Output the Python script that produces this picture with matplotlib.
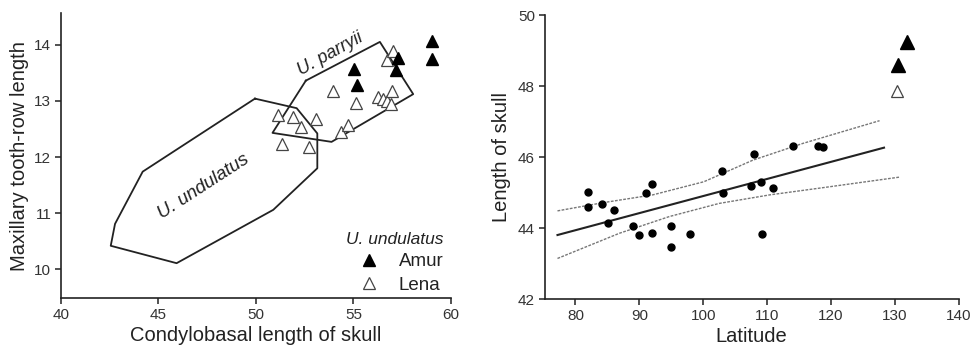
import matplotlib
matplotlib.use("Agg")
import matplotlib.pyplot as plt
from matplotlib.lines import Line2D

plt.rcParams["font.family"] = ["Liberation Sans", "DejaVu Sans"]

# left panel: convex hulls
und_x = [49.95, 52.09, 53.15, 53.15, 50.89, 45.93, 42.55, 42.77, 44.19, 49.95]
und_y = [13.04, 12.87, 12.42, 11.80, 11.06, 10.11, 10.42, 10.81, 11.74, 13.04]
par_x = [52.56, 56.36, 58.07, 53.88, 50.85, 52.56]
par_y = [13.36, 14.05, 13.12, 12.27, 12.43, 13.36]

# U. undulatus samples
lena_x = [51.15, 51.88, 52.31, 53.06, 51.32, 52.74, 53.93, 55.16, 54.39, 54.75,
          56.27, 56.53, 56.75, 56.96, 56.91, 56.70, 57.04]
lena_y = [12.75, 12.71, 12.54, 12.68, 12.23, 12.17, 13.18, 12.96, 12.44, 12.57,
          13.06, 13.04, 12.99, 13.18, 12.94, 13.72, 13.88]
amur_x = [55.03, 55.21, 57.30, 57.21, 59.04, 59.04]
amur_y = [13.56, 13.28, 13.77, 13.55, 14.07, 13.74]

# right panel
lat = [82.0, 82.0, 84.1, 86.0, 85.1, 89.0, 89.9, 91.0, 92.0, 92.0, 95.0, 95.0,
       97.9, 103.0, 103.1, 107.9, 107.5, 109.1, 109.2, 111.0, 114.1, 118.0, 118.8]
skull = [45.01, 44.61, 44.68, 44.51, 44.16, 44.05, 43.81, 45.00, 45.25, 43.86,
         44.05, 43.46, 43.84, 45.61, 45.00, 46.08, 45.20, 45.29, 43.84, 45.13,
         46.33, 46.33, 46.29]
fit_x = [77.2, 128.3]
fit_y = [43.81, 46.27]
up_x = [77.2, 84.3, 92.1, 100.1, 107.8, 115.6, 127.6]
up_y = [44.49, 44.72, 44.94, 45.31, 45.92, 46.39, 47.03]
lo_x = [77.2, 86.9, 94.7, 102.5, 110.4, 118.2, 130.7]
lo_y = [43.15, 43.86, 44.33, 44.70, 44.94, 45.13, 45.44]
amur_lat = [131.9, 130.5]
amur_skull = [49.25, 48.59]
lena_lat = [130.3]
lena_skull = [47.88]

ink = "#222222"


def style(ax):
    for s in ["top", "right"]:
        ax.spines[s].set_visible(False)
    for s in ["left", "bottom"]:
        ax.spines[s].set_linewidth(1.2)
        ax.spines[s].set_color(ink)
    ax.tick_params(direction="out", length=4, width=1.1, colors=ink,
                   labelcolor="#333333", labelsize=11, pad=3)


def main():
    fig = plt.figure(figsize=(9.72, 3.46), dpi=100)
    ax1 = fig.add_axes([0.0628, 0.1387, 0.401, 0.823])
    ax2 = fig.add_axes([0.5604, 0.135, 0.426, 0.821])

    # left
    ax1.plot(und_x, und_y, color=ink, lw=1.3)
    ax1.plot(par_x, par_y, color=ink, lw=1.3)
    ax1.plot(lena_x, lena_y, ls="none", marker="^", ms=8, mfc="white",
             mec="#444444", mew=0.9)
    ax1.plot(amur_x, amur_y, ls="none", marker="^", ms=8.5, mfc="black",
             mec="black")
    ax1.text(47.3, 11.47, "U. undulatus", style="italic", fontsize=13.5,
             rotation=33, ha="center", va="center", color=ink)
    ax1.text(53.8, 13.83, "U. parryii", style="italic", fontsize=13,
             rotation=29, ha="center", va="center", color=ink)
    handles = [
        Line2D([], [], ls="none", marker="^", ms=8.5, mfc="black", mec="black"),
        Line2D([], [], ls="none", marker="^", ms=8, mfc="white", mec="#444444",
               mew=0.9),
    ]
    leg = ax1.legend(handles, ["Amur", "Lena"], title="U. undulatus",
                     frameon=False, loc="lower right",
                     bbox_to_anchor=(1.01, -0.025), fontsize=13.5,
                     title_fontproperties={"style": "italic", "size": 12.5},
                     handlelength=1.0, handletextpad=1.1, labelspacing=0.35,
                     alignment="right", borderaxespad=0.2)
    for t in leg.get_texts():
        t.set_color(ink)
    leg.get_title().set_color(ink)
    ax1.set_xlim(40, 60)
    ax1.set_ylim(9.49, 14.56)
    ax1.set_xticks([40, 45, 50, 55, 60])
    ax1.set_yticks([10, 11, 12, 13, 14])
    ax1.set_xlabel("Condylobasal length of skull", fontsize=14.5, color=ink,
                   labelpad=3)
    ax1.set_ylabel("Maxillary tooth-row length", fontsize=14.5, color=ink,
                   labelpad=4)
    style(ax1)

    # right
    ax2.plot(up_x, up_y, color="#777777", lw=1.0, ls=(0, (2, 1)))
    ax2.plot(lo_x, lo_y, color="#777777", lw=1.0, ls=(0, (2, 1)))
    ax2.plot(fit_x, fit_y, color=ink, lw=1.5)
    ax2.plot(lat, skull, ls="none", marker="o", ms=5, mfc="black", mec="black")
    ax2.plot(amur_lat, amur_skull, ls="none", marker="^", ms=9.5,
             mfc="black", mec="black")
    ax2.plot(lena_lat, lena_skull, ls="none", marker="^", ms=8,
             mfc="white", mec="#444444", mew=0.9)
    ax2.set_xlim(75.2, 140)
    ax2.set_ylim(42, 50)
    ax2.set_xticks([80, 90, 100, 110, 120, 130, 140])
    ax2.set_yticks([42, 44, 46, 48, 50])
    ax2.set_xlabel("Latitude", fontsize=14.5, color=ink, labelpad=3)
    ax2.set_ylabel("Length of skull", fontsize=14.5, color=ink, labelpad=5)
    style(ax2)

    fig.savefig("out.png", dpi=100)


if __name__ == "__main__":
    main()
